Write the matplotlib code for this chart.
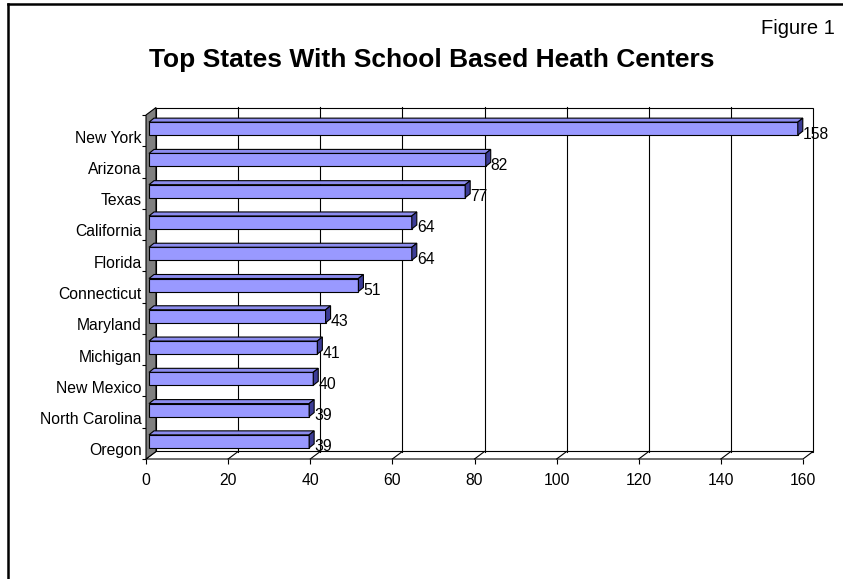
import matplotlib
matplotlib.use('Agg')
import numpy as np
import matplotlib.pyplot as plt
from matplotlib.patches import Polygon, Rectangle
from matplotlib.lines import Line2D
import matplotlib.transforms as mtransforms

# ---- data ----
states = ['New York', 'Arizona', 'Texas', 'California', 'Florida', 'Connecticut',
          'Maryland', 'Michigan', 'New Mexico', 'North Carolina', 'Oregon']
centers = [158, 82, 77, 64, 64, 51, 43, 41, 40, 39, 39]
x_ticks = [0, 20, 40, 60, 80, 100, 120, 140, 160]
title = 'Top States With School Based Heath Centers'
fig_label = 'Figure 1'

W, H, DPI = 843, 579, 100
plt.rcParams['font.family'] = ['Liberation Sans', 'DejaVu Sans']
fig = plt.figure(figsize=(W / DPI, H / DPI), dpi=DPI)
fig.patch.set_facecolor('white')

# front plane of the 3D box (pixels)
L, R, T, B = 146, 803, 115, 459
ax = fig.add_axes([L / W, 1 - B / H, (R - L) / W, (B - T) / H])
n = len(states)
xmax = x_ticks[-1]
ax.set_xlim(0, xmax)
ax.set_ylim(n - 0.5, -0.5)
ux = (R - L) / xmax
uy = (B - T) / n


def px(dx, dy):
    """pixel offsets (right, up) -> data deltas"""
    return dx / ux, -dy / uy


lw = 0.8
wx, wy = px(10, 7.5)
ytop, ybot = -0.5, n - 0.5

# back wall
ax.add_patch(Rectangle((wx, ytop + wy), xmax, n, facecolor='white', edgecolor='black',
                       lw=lw, clip_on=False, zorder=1))
# floor
ax.add_patch(Polygon([(0, ybot), (xmax, ybot), (xmax + wx, ybot + wy), (wx, ybot + wy)],
                     closed=True, facecolor='white', edgecolor='black', lw=lw,
                     clip_on=False, zorder=1))
# left wall
ax.add_patch(Polygon([(0, ytop), (wx, ytop + wy), (wx, ybot + wy), (0, ybot)],
                     closed=True, facecolor='#808080', edgecolor='black', lw=lw,
                     clip_on=False, zorder=2))
# gridlines on back wall and floor
for v in x_ticks[1:-1]:
    ax.plot([v + wx, v + wx], [ytop + wy, ybot + wy], color='black', lw=lw,
            clip_on=False, zorder=1.5)
    ax.plot([v, v + wx], [ybot, ybot + wy], color='black', lw=lw,
            clip_on=False, zorder=1.5)

# bars
bx, by = px(3, 2)
h = 13 / uy
dxb, dyb = px(5, 4)
ypos = [i + by for i in range(n)]
ax.barh(ypos, centers, left=bx, height=h, color='#9999FF', edgecolor='black',
        lw=lw, zorder=3, clip_on=False)
for y, v in zip(ypos, centers):
    yt, yb = y - h / 2, y + h / 2
    ax.add_patch(Polygon([(bx, yt), (bx + v, yt), (bx + v + dxb, yt + dyb), (bx + dxb, yt + dyb)],
                         closed=True, facecolor='#8C8CEE', edgecolor='black', lw=lw,
                         clip_on=False, zorder=3))
    ax.add_patch(Polygon([(bx + v, yt), (bx + v, yb), (bx + v + dxb, yb + dyb), (bx + v + dxb, yt + dyb)],
                         closed=True, facecolor='#3C3C96', edgecolor='black', lw=lw,
                         clip_on=False, zorder=3))
for i, v in enumerate(centers):
    ax.annotate(str(v), xy=(bx + v, i), xytext=(5, -3.5), textcoords='offset pixels',
                ha='left', va='center', fontsize=11.3, zorder=5)

# axes ticks
for s in ax.spines.values():
    s.set_visible(False)
ax.set_facecolor('none')
ax.set_xticks(x_ticks)
ax.set_xticklabels([str(t) for t in x_ticks])
ax.tick_params(axis='x', length=3.6, width=lw, pad=6.5, labelsize=11.3)
ax.set_yticks(range(n))
ax.set_yticklabels(states)
ax.set_yticks(np.arange(-0.5, n, 1.0), minor=True)
ax.tick_params(axis='y', which='major', length=0, pad=3, labelsize=11.3)
ax.tick_params(axis='y', which='minor', length=3, width=lw, direction='out')
shift = mtransforms.ScaledTranslation(0, -6 / DPI, fig.dpi_scale_trans)
for lab in ax.get_yticklabels():
    lab.set_transform(lab.get_transform() + shift)

# titles
fig.text(432 / W, 1 - 60 / H, title, ha='center', va='center', fontsize=19,
         fontweight='bold')
fig.text(798 / W, 1 - 34 / H, fig_label, ha='center', va='baseline', fontsize=14.5)

# outer frame (left and top edges visible)
fig.add_artist(Line2D([8 / W, 8 / W], [0, 1 - 4 / H], color='black', lw=1.8))
fig.add_artist(Line2D([8 / W, 1], [1 - 4 / H, 1 - 4 / H], color='black', lw=1.8))

fig.savefig('out.png', dpi=DPI)
